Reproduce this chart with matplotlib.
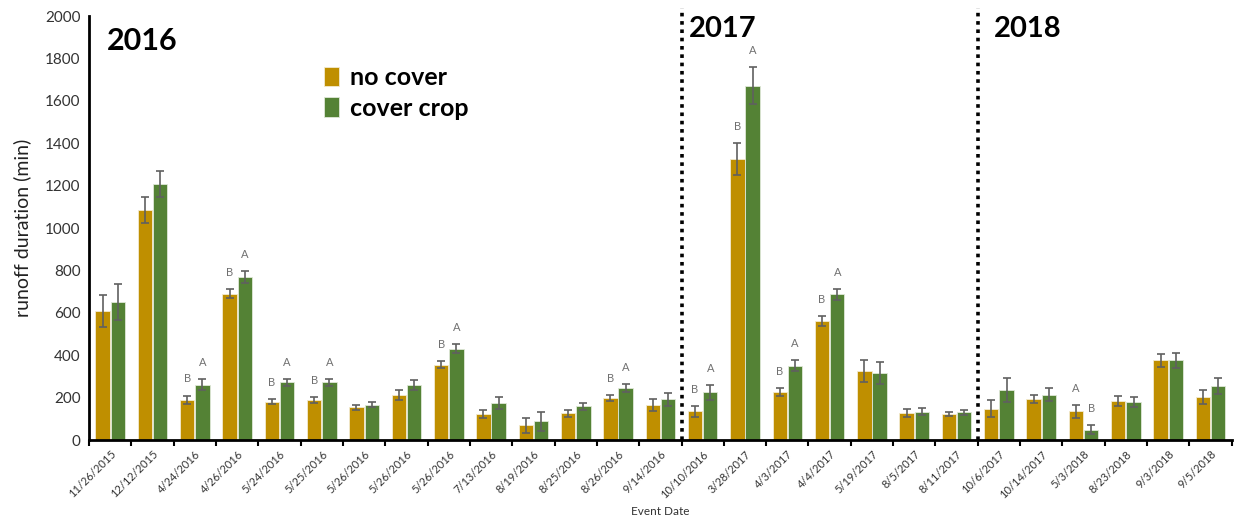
import numpy as np
import matplotlib
matplotlib.use('Agg')
import matplotlib.pyplot as plt

plt.rcParams['font.family'] = ['Lato', 'DejaVu Sans']

# Runoff events and mean runoff duration (min) for each treatment
event_dates = ['11/26/2015', '12/12/2015', '4/24/2016', '4/26/2016', '5/24/2016',
               '5/25/2016', '5/26/2016', '5/26/2016', '5/26/2016', '7/13/2016',
               '8/19/2016', '8/25/2016', '8/26/2016', '9/14/2016',
               '10/10/2016', '3/28/2017', '4/3/2017', '4/4/2017', '5/19/2017',
               '8/5/2017', '8/11/2017',
               '10/6/2017', '10/14/2017', '5/3/2018', '8/23/2018', '9/3/2018', '9/5/2018']

no_cover = [608, 1084, 190, 690, 181, 189, 154, 214, 355, 121, 69, 126, 198, 165,
            135, 1325, 226, 563, 325, 126, 123,
            149, 193, 135, 184, 376, 203]
no_cover_err = [75, 62, 20, 22, 13, 15, 11, 23, 17, 19, 36, 16, 14, 28,
                24, 75, 19, 24, 51, 19, 9,
                42, 20, 29, 25, 30, 34]

cover_crop = [652, 1209, 261, 769, 272, 272, 167, 261, 432, 175, 88, 159, 245, 192,
              225, 1671, 351, 687, 316, 134, 131,
              236, 214, 50, 179, 376, 255]
cover_crop_err = [85, 60, 26, 28, 16, 17, 12, 23, 22, 26, 44, 17, 18, 31,
                  36, 87, 25, 27, 52, 17, 12,
                  55, 31, 22, 25, 36, 36]

# Significance letters (empty where no difference)
no_cover_sig = ['', '', 'B', 'B', 'B', 'B', '', '', 'B', '', '', '', 'B', '',
                'B', 'B', 'B', 'B', '', '', '',
                '', '', 'A', '', '', '']
cover_crop_sig = ['', '', 'A', 'A', 'A', 'A', '', '', 'A', '', '', '', 'A', '',
                  'A', 'A', 'A', 'A', '', '', '',
                  '', '', 'B', '', '', '']

years = ['2016', '2017', '2018']
year_breaks = [13.5, 20.5]

nc_color = '#BF8F00'
cc_color = '#548235'
err_color = '#606060'

fig = plt.figure(figsize=(12.38, 5.19), dpi=100)
ax = fig.add_axes([0.0719, 0.152, 0.923, 0.817])

x = np.arange(len(event_dates))
w = 0.34
off = 0.18
ax.bar(x - off, no_cover, w, color=nc_color, edgecolor='#f3ead0', linewidth=0.6,
       label='no cover', zorder=2)
ax.bar(x + off, cover_crop, w, color=cc_color, edgecolor='#dfe8d8', linewidth=0.6,
       label='cover crop', zorder=2)
ax.errorbar(x - off, no_cover, yerr=no_cover_err, fmt='none', ecolor=err_color,
            elinewidth=1.2, capsize=3, capthick=1.2, zorder=3)
ax.errorbar(x + off, cover_crop, yerr=cover_crop_err, fmt='none', ecolor=err_color,
            elinewidth=1.2, capsize=3, capthick=1.2, zorder=3)

for xi, v, e, s in zip(x - off, no_cover, no_cover_err, no_cover_sig):
    if s:
        ax.annotate(s, (xi, v + e), xytext=(0, 8), textcoords='offset points',
                    ha='center', va='bottom', fontsize=8, color='#707070')
for xi, v, e, s in zip(x + off, cover_crop, cover_crop_err, cover_crop_sig):
    if s:
        ax.annotate(s, (xi, v + e), xytext=(0, 8), textcoords='offset points',
                    ha='center', va='bottom', fontsize=8, color='#707070')

# Dotted separators between years
for b in year_breaks:
    ax.plot([b, b], [0, 2040], color='black', linestyle=(0, (1, 1.3)), linewidth=2.6,
            clip_on=False, zorder=4)

ax.text(0.016, 0.975, years[0], transform=ax.transAxes, fontsize=22, fontweight='bold',
        va='top', ha='left')
ax.text(0.525, 1.0, years[1], transform=ax.transAxes, fontsize=21, fontweight='bold',
        va='top', ha='left')
ax.text(0.792, 1.0, years[2], transform=ax.transAxes, fontsize=21, fontweight='bold',
        va='top', ha='left')

ax.set_xlim(-0.5, len(event_dates) - 0.5)
ax.set_ylim(0, 2000)
ax.set_yticks(np.arange(0, 2001, 200))
ax.tick_params(axis='y', length=0, labelsize=11, pad=6, labelcolor='#333333')
ax.set_xticks(x)
ax.set_xticklabels(event_dates, rotation=45, ha='right', rotation_mode='anchor',
                   fontsize=8, color='#333333')
ax.set_xticks(np.arange(-0.5, len(event_dates), 1), minor=True)
ax.tick_params(axis='x', which='major', length=0, pad=6)
ax.tick_params(axis='x', which='minor', length=4, width=1.5, direction='out')

for sp in ['top', 'right']:
    ax.spines[sp].set_visible(False)
ax.spines['left'].set_linewidth(2)
ax.spines['bottom'].set_linewidth(2)

ax.set_ylabel('runoff duration (min)', fontsize=14, color='#222222', labelpad=10)
ax.set_xlabel('Event Date', fontsize=8.5, color='#333333', labelpad=4)

ax.legend(loc='upper left', bbox_to_anchor=(0.186, 0.935), frameon=False,
          prop={'size': 18, 'weight': 'bold'}, handlelength=0.6, handleheight=0.8,
          handletextpad=0.45, labelspacing=0.3)

fig.savefig('out.png', dpi=100)
